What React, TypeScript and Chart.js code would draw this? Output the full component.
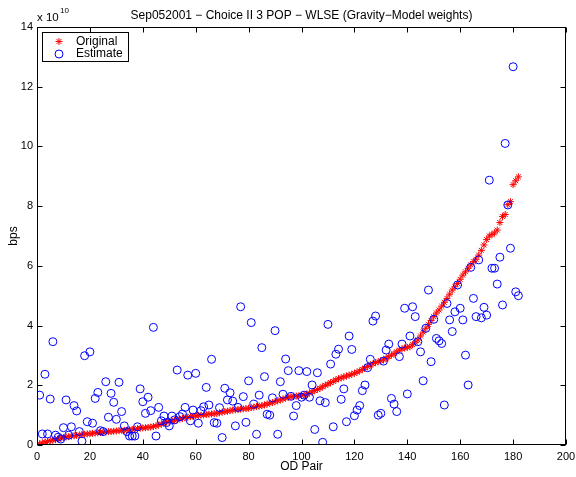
import React, { useEffect, useRef } from 'react';
import { Chart, registerables } from 'chart.js';

Chart.register(...registerables);

const TITLE = 'Sep052001 \u2212 Choice II 3 POP \u2212 WLSE (Gravity\u2212Model weights)';
const X_LABEL = 'OD Pair';
const Y_LABEL = 'bps';
const SERIES_NAMES = ['Original', 'Estimate'];

const xTicks = [0, 20, 40, 60, 80, 100, 120, 140, 160, 180, 200];
const yTicks = [0, 2, 4, 6, 8, 10, 12, 14];

// values in units of 1e10 bps, OD pair 1..182
const original = [
  0.04, 0.07, 0.10, 0.12, 0.14, 0.16, 0.18, 0.20, 0.23, 0.25,
  0.27, 0.28, 0.30, 0.31, 0.32, 0.34, 0.35, 0.36, 0.37, 0.38,
  0.39, 0.40, 0.41, 0.42, 0.43, 0.44, 0.45, 0.45, 0.46, 0.47,
  0.48, 0.49, 0.49, 0.50, 0.51, 0.52, 0.53, 0.55, 0.56, 0.57,
  0.58, 0.59, 0.60, 0.62, 0.64, 0.67, 0.70, 0.74, 0.77, 0.79,
  0.81, 0.83, 0.85, 0.87, 0.89, 0.91, 0.93, 0.95, 0.96, 0.98,
  0.99, 1.00, 1.01, 1.02, 1.03, 1.04, 1.05, 1.06, 1.08, 1.10,
  1.12, 1.13, 1.15, 1.17, 1.18, 1.19, 1.20, 1.21, 1.22, 1.23,
  1.25, 1.27, 1.29, 1.30, 1.32, 1.34, 1.37, 1.40, 1.42, 1.45,
  1.48, 1.51, 1.54, 1.57, 1.60, 1.62, 1.63, 1.64, 1.65, 1.66,
  1.67, 1.70, 1.74, 1.78, 1.82, 1.86, 1.90, 1.95, 2.00, 2.04,
  2.09, 2.13, 2.18, 2.22, 2.25, 2.28, 2.31, 2.34, 2.37, 2.40,
  2.44, 2.48, 2.53, 2.58, 2.63, 2.68, 2.72, 2.76, 2.79, 2.82,
  2.85, 2.90, 2.96, 3.01, 3.06, 3.12, 3.18, 3.22, 3.25, 3.27,
  3.29, 3.36, 3.44, 3.52, 3.65, 3.78, 3.91, 4.04, 4.17, 4.30,
  4.42, 4.52, 4.65, 4.78, 4.91, 5.05, 5.19, 5.30, 5.41, 5.55,
  5.69, 5.80, 5.92, 6.03, 6.14, 6.22, 6.36, 6.52, 6.70, 6.88,
  7.00, 7.05, 7.10, 7.20, 7.45, 7.65, 7.72, 8.05, 8.15, 8.72,
  8.85, 8.98,
];

const estimate = [
  1.67, 0.37, 2.37, 0.37, 1.54, 3.46, 0.33, 0.26, 0.20, 0.58,
  1.51, 0.33, 0.61, 1.32, 1.14, 0.45, 0.13, 2.99, 0.78, 3.12,
  0.73, 1.56, 1.76, 0.48, 0.45, 2.12, 0.93, 1.73, 1.43, 0.86,
  2.10, 1.12, 0.64, 0.45, 0.30, 0.30, 0.30, 0.61, 1.88, 1.45,
  1.06, 1.60, 1.15, 3.94, 0.30, 1.26, 0.81, 0.97, 0.75, 0.64,
  0.97, 0.84, 2.51, 0.95, 1.04, 1.26, 2.34, 0.81, 1.17, 2.40,
  0.73, 1.15, 1.28, 1.93, 1.34, 2.87, 0.75, 0.73, 1.25, 0.25,
  1.90, 1.51, 1.75, 1.47, 0.64, 1.26, 4.63, 1.62, 0.76, 2.15,
  4.10, 1.37, 0.36, 1.67, 3.26, 2.29, 1.03, 1.00, 1.58, 3.83,
  0.36, 2.12, 1.70, 2.88, 2.49, 1.63, 0.97, 1.32, 2.49, 1.60,
  1.67, 2.46, 1.60, 2.01, 0.52, 2.42, 1.48, 0.09, 1.42, 4.04,
  2.71, 0.61, 3.04, 3.21, 1.53, 1.88, 0.78, 3.65, 3.20, 0.98,
  1.17, 1.32, 1.82, 2.01, 2.59, 2.87, 4.15, 4.32, 1.00, 1.06,
  2.81, 3.18, 3.38, 1.56, 1.37, 1.12, 2.96, 3.38, 4.58, 1.71,
  3.65, 4.63, 4.30, 3.46, 3.12, 2.15, 3.91, 5.19, 2.79, 4.21,
  3.57, 3.49, 3.40, 1.34, 4.74, 4.19, 3.80, 4.46, 5.36, 4.58,
  4.19, 3.01, 2.01, 5.95, 4.91, 4.30, 6.20, 4.26, 4.61, 4.35,
  8.87, 5.92, 5.92, 5.39, 6.29, 4.69, 10.10, 8.04, 6.59, 12.67,
  5.13, 5.00,
];

const odPairs = original.map((_, i) => i + 1);

const FONT = "'Liberation Sans', Arial, Helvetica, sans-serif";

const decorPlugin = {
  id: 'matlabDecor',
  afterDraw(chart: any) {
    const { ctx, chartArea: a, scales } = chart;
    const xs = scales.x;
    const ys = scales.y;
    ctx.save();
    ctx.strokeStyle = '#000';
    ctx.lineWidth = 1;
    const L = Math.round(a.left) + 0.5;
    const R = Math.round(a.right) - 0.5;
    const T = Math.round(a.top) + 0.5;
    const B = Math.round(a.bottom) - 0.5;
    ctx.strokeRect(L, T, R - L, B - T);
    const tl = 5;
    ctx.beginPath();
    for (const v of xTicks) {
      const px = Math.round(xs.getPixelForValue(v)) + 0.5;
      ctx.moveTo(px, B); ctx.lineTo(px, B - tl);
      ctx.moveTo(px, T); ctx.lineTo(px, T + tl);
    }
    for (const v of yTicks) {
      const py = Math.round(ys.getPixelForValue(v)) + 0.5;
      ctx.moveTo(L, py); ctx.lineTo(L + tl, py);
      ctx.moveTo(R, py); ctx.lineTo(R - tl, py);
    }
    ctx.stroke();

    ctx.fillStyle = '#000';
    // title
    ctx.font = `12px ${FONT}`;
    ctx.textAlign = 'center';
    ctx.textBaseline = 'middle';
    ctx.fillText(TITLE, (a.left + a.right) / 2, 15.5);
    // x label
    ctx.fillText(X_LABEL, (a.left + a.right) / 2, 467);
    // y label
    ctx.save();
    ctx.translate(14, (a.top + a.bottom) / 2);
    ctx.rotate(-Math.PI / 2);
    ctx.fillText(Y_LABEL, 0, 0);
    ctx.restore();
    // exponent
    ctx.font = `11.5px ${FONT}`;
    ctx.textAlign = 'left';
    ctx.fillText('x 10', 37, 18);
    ctx.font = `8px ${FONT}`;
    ctx.fillText('10', 60, 11);

    // legend
    const lx = 42.5, ly = 32.5, lw = 86, lh = 29;
    ctx.fillStyle = '#fff';
    ctx.fillRect(lx, ly, lw, lh);
    ctx.strokeStyle = '#000';
    ctx.strokeRect(lx, ly, lw, lh);
    const sx = 59, sy1 = 41.5, sy2 = 54;
    ctx.strokeStyle = '#ff0000';
    ctx.beginPath();
    const r = 3.5;
    ctx.moveTo(sx - r, sy1); ctx.lineTo(sx + r, sy1);
    ctx.moveTo(sx, sy1 - r); ctx.lineTo(sx, sy1 + r);
    const d = r * 0.707;
    ctx.moveTo(sx - d, sy1 - d); ctx.lineTo(sx + d, sy1 + d);
    ctx.moveTo(sx - d, sy1 + d); ctx.lineTo(sx + d, sy1 - d);
    ctx.stroke();
    ctx.strokeStyle = '#0000ff';
    ctx.beginPath();
    ctx.arc(sx, sy2, 4, 0, Math.PI * 2);
    ctx.stroke();
    ctx.fillStyle = '#000';
    ctx.font = `12px ${FONT}`;
    ctx.textAlign = 'left';
    ctx.fillText(SERIES_NAMES[0], 76, 41.5);
    ctx.fillText(SERIES_NAMES[1], 76, 54);
    ctx.restore();
  },
};

export default function App() {
  const ref = useRef<HTMLCanvasElement | null>(null);
  useEffect(() => {
    document.body.style.margin = '0';
    const canvas = ref.current;
    if (!canvas) return;
    const chart = new Chart(canvas, {
      type: 'scatter',
      data: {
        datasets: [
          {
            label: SERIES_NAMES[0],
            data: odPairs.map((x, i) => ({ x, y: original[i] })),
            pointStyle: 'star',
            pointRadius: 3.5,
            pointBorderColor: '#ff0000',
            pointBackgroundColor: '#ff0000',
            pointBorderWidth: 1,
            order: 2,
          },
          {
            label: SERIES_NAMES[1],
            data: odPairs.map((x, i) => ({ x, y: estimate[i] })),
            pointStyle: 'circle',
            pointRadius: 4,
            pointBorderColor: '#0000ff',
            pointBackgroundColor: 'rgba(0,0,0,0)',
            pointBorderWidth: 1,
            order: 1,
          },
        ],
      },
      options: {
        animation: false,
        responsive: false,
        devicePixelRatio: 1,
        layout: { padding: { top: 27, right: 10, left: 0, bottom: 0 } },
        plugins: {
          legend: { display: false },
          title: { display: false },
          tooltip: { enabled: false },
        },
        scales: {
          x: {
            type: 'linear',
            min: 0,
            max: 200,
            grid: { display: false, drawTicks: false },
            border: { display: false },
            afterBuildTicks: (s: any) => { s.ticks = xTicks.map((v) => ({ value: v })); },
            afterFit: (s: any) => { s.height = 32; s.paddingLeft = 0; s.paddingRight = 0; },
            ticks: {
              color: '#000',
              font: { family: FONT, size: 11 },
              padding: 5,
              maxRotation: 0,
              autoSkip: false,
            },
          },
          y: {
            type: 'linear',
            min: 0,
            max: 14,
            grid: { display: false, drawTicks: false },
            border: { display: false },
            afterBuildTicks: (s: any) => { s.ticks = yTicks.map((v) => ({ value: v })); },
            afterFit: (s: any) => { s.width = 37; s.paddingTop = 0; s.paddingBottom = 0; },
            ticks: {
              color: '#000',
              font: { family: FONT, size: 11 },
              padding: 4,
              autoSkip: false,
            },
          },
        },
      },
      plugins: [decorPlugin],
    });
    return () => chart.destroy();
  }, []);
  return (
    <div style={{ width: 576, height: 477, background: '#fff' }}>
      <canvas ref={ref} width={576} height={477} style={{ display: 'block' }} />
    </div>
  );
}
